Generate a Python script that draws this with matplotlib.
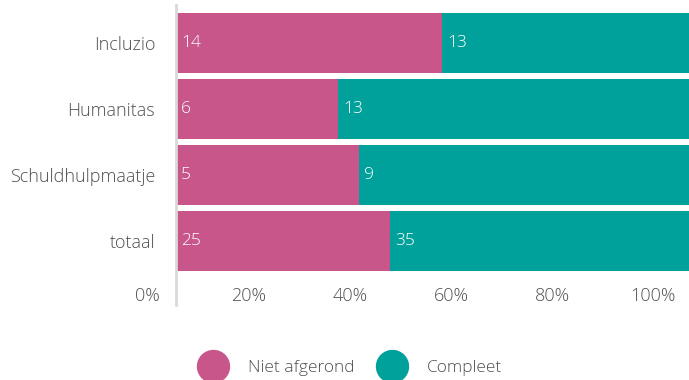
import matplotlib.pyplot as plt
import numpy as np
from matplotlib.lines import Line2D

plt.rcParams['font.family'] = ['Open Sans', 'DejaVu Sans']

categories = ["Incluzio", "Humanitas", "Schuldhulpmaatje", "totaal"]
niet_afgerond = [14, 6, 5, 25]
compleet = [13, 13, 9, 35]
tick_values = [0, 20, 40, 60, 80, 100]
tick_labels = ["0%", "20%", "40%", "60%", "80%", "100%"]

pink = "#C8568A"
teal = "#00A19A"
grey_text = "#505050"
fw = "light"

fig = plt.figure(figsize=(6.89, 3.8), dpi=100)
ax = fig.add_axes([176 / 689, 1 - 305 / 380, 513 / 689, 300 / 380])

na = np.array(niet_afgerond, dtype=float)
co = np.array(compleet, dtype=float)
tot = na + co
na_pct = na / tot * 100
co_pct = co / tot * 100
y = np.arange(len(categories))

ax.barh(y, na_pct, height=0.91, color=pink)
ax.barh(y, co_pct, left=na_pct, height=0.91, color=teal)

for i in range(len(categories)):
    ax.text(1.0, y[i], str(niet_afgerond[i]), color="white", va="center",
            ha="left", fontsize=12.5, fontweight=fw)
    ax.text(na_pct[i] + 1.0, y[i], str(compleet[i]), color="white", va="center",
            ha="left", fontsize=12.5, fontweight=fw)

ax.set_yticks(y, categories)
ax.tick_params(axis="y", length=0, pad=15, labelsize=13, labelcolor=grey_text)
for lab in ax.get_yticklabels():
    lab.set_fontweight(fw)

ax.set_xticks([])
ax.set_xlim(0, 100)
ax.set_ylim(3 + 64 / 66, -38 / 66)

# tick labels in the original are shifted a bit left of the bar scale
trans = ax.get_xaxis_transform()
for v, lab in zip(tick_values, tick_labels):
    ax.text(-5.5 + 0.985 * v, 9 / 300, lab, transform=trans, ha="center",
            va="center", fontsize=13, color=grey_text, fontweight=fw, clip_on=False)

for s in ["top", "right", "bottom"]:
    ax.spines[s].set_visible(False)
ax.spines["left"].set_color("#d9d9d9")
ax.spines["left"].set_linewidth(2)

handles = [
    Line2D([], [], marker="o", linestyle="", markersize=23, color=pink),
    Line2D([], [], marker="o", linestyle="", markersize=23, color=teal),
]
leg = fig.legend(handles, ["Niet afgerond", "Compleet"], loc="center",
                 bbox_to_anchor=(349 / 689, 1 - 368 / 380), ncol=2, frameon=False,
                 fontsize=12.5, handletextpad=1.0, columnspacing=1.2)
for t in leg.get_texts():
    t.set_color(grey_text)
    t.set_fontweight(fw)

plt.savefig("out.png", dpi=100)
